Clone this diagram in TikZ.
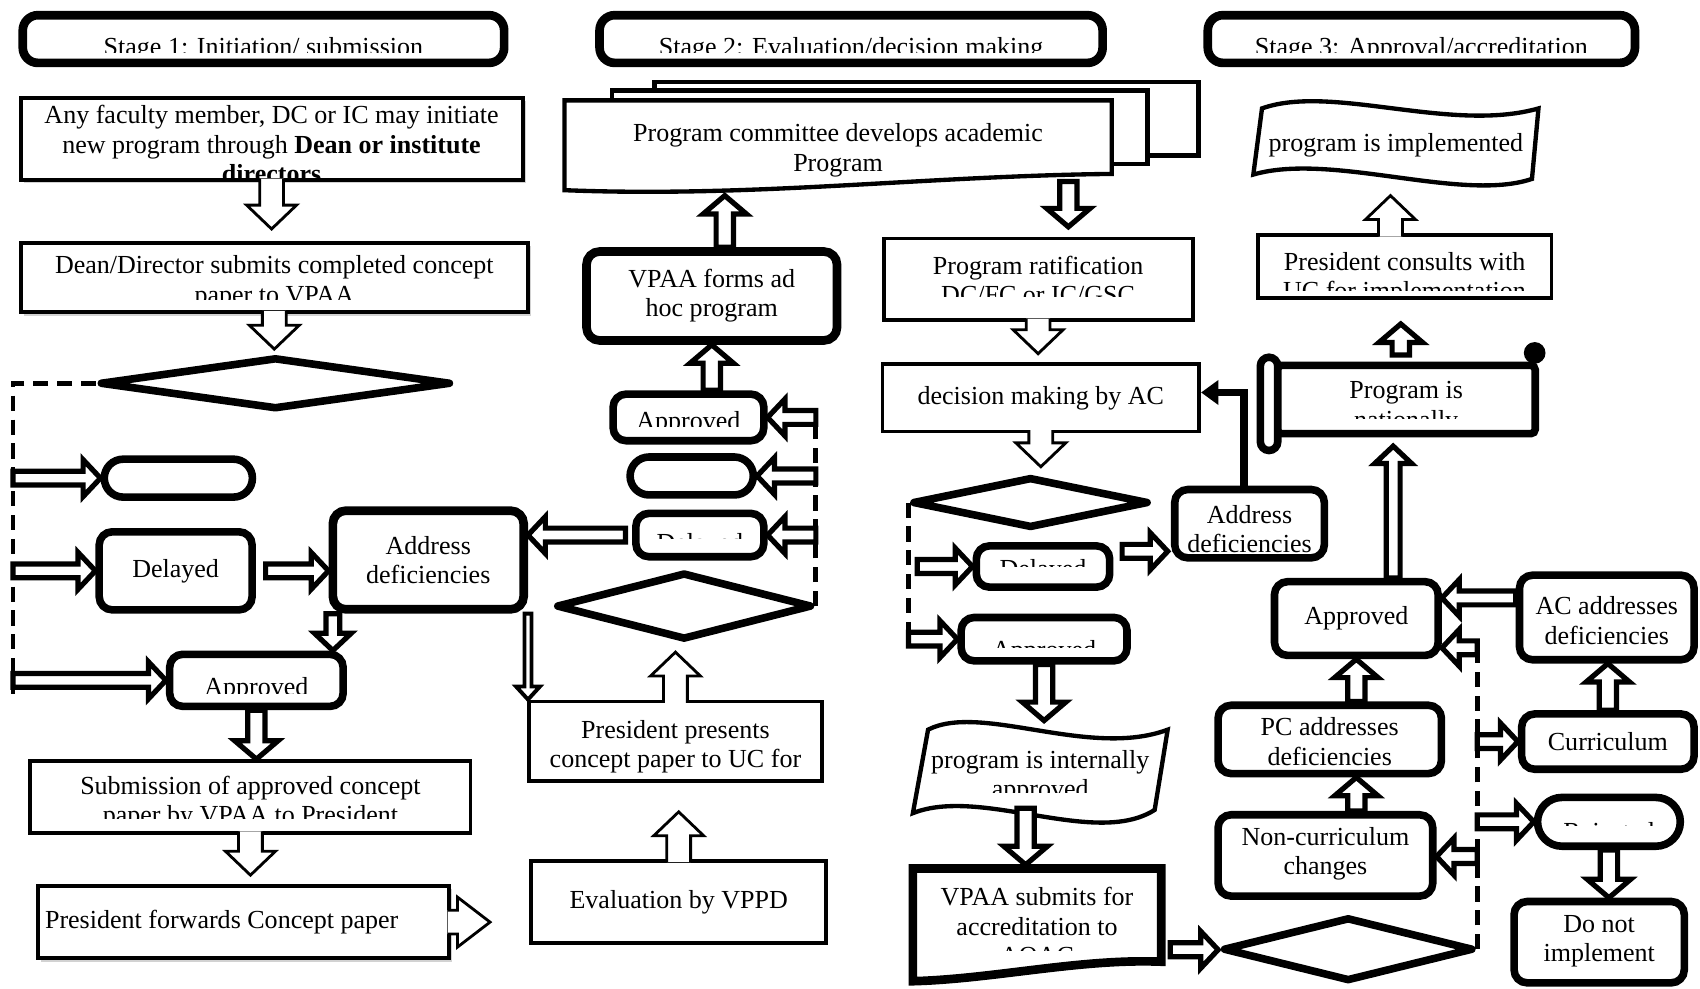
\documentclass[tikz,border=0pt]{standalone}
\usepackage{fontspec}
\setmainfont{Liberation Serif}
\usetikzlibrary{arrows.meta, calc, shapes.geometric, shapes.misc, shadows}

\newcommand{\nodefont}{\fontsize{12}{13.5}\selectfont}

\tikzset{
  blockarrow/.style n args = {4}{to path = {
      let \p1 = (\tikztostart), \p2 = (\tikztotarget),
          \n1 = {veclen(\x2-\x1,\y2-\y1)},
          \n2 = {(\x2-\x1)/\n1}, \n3 = {(\y2-\y1)/\n1}
      in ({\x1-#1*\n3},{\y1+#1*\n2})
      -- ({\x2-#3*\n2-#1*\n3},{\y2-#3*\n3+#1*\n2})
      -- ({\x2-#3*\n2-#2*\n3},{\y2-#3*\n3+#2*\n2})
      -- (\p2)
      -- ({\x2-#3*\n2+#2*\n3},{\y2-#3*\n3-#2*\n2})
      -- ({\x2-#3*\n2+#1*\n3},{\y2-#3*\n3-#1*\n2})
      -- ({\x1+#1*\n3},{\y1-#1*\n2}) #4}},
  cliptxt/.style n args = {3}{path picture = {
      \clip ([yshift=#3]path picture bounding box.west) rectangle (path picture bounding box.north east);
      \node[align = center, inner sep = 0pt] at ([yshift=#2]path picture bounding box.center) {#1};}}
}

\begin{document}
\begin{tikzpicture}[x = 0.5pt, y = -0.5pt,
    every node/.style = {font = \nodefont},
    stagebox/.style = {draw, fill = white, line width = 4pt, rounded corners = 7pt, minimum height = 22pt},
    box/.style = {draw, fill = white, line width = 1.8pt},
    shadowed/.style = {drop shadow = {shadow xshift = 1.6pt, shadow yshift = -1.6pt, fill = black!35}},
    rbox/.style = {draw, fill = white, line width = 3.5pt, rounded corners = 6pt},
    pill/.style = {rounded rectangle, draw, fill = white, line width = 3.5pt},
    dia/.style = {diamond, draw, fill = white, line width = 3.5pt, line join = round, inner sep = 0pt},
    dsh/.style = {line width = 2.2pt, dash pattern = on 7pt off 4pt},
    hol/.style = {draw, fill = white, line width = 1.3pt, blockarrow = {5.5}{11.5}{11}{}},
    slit/.style = {draw, fill = white, line width = 2.4pt, blockarrow = {3.2}{8.5}{8}{-- cycle}},
    slitb/.style = {draw, fill = white, line width = 2.4pt, blockarrow = {4}{10}{8.5}{-- cycle}},
    slim/.style = {draw, fill = white, line width = 1.8pt, blockarrow = {1.6}{5.5}{6}{-- cycle}},
    paper/.style = {draw, fill = white, line width = 2pt}]
  \useasboundingbox (0,0) rectangle (1568,912);

  % stage headers
  \node[stagebox, minimum width = 222pt, cliptxt = {Stage 1: Initiation/ submission}{-4.5pt}{-6pt}] (st1) at (243,36) {};
  \node[stagebox, minimum width = 232pt, cliptxt = {Stage 2: Evaluation/decision making}{-4.5pt}{-6pt}] (st2) at (785,36) {};
  \node[stagebox, minimum width = 197pt, cliptxt = {Stage 3: Approval/accreditation}{-4.5pt}{-6pt}] (st3) at (1311,36) {};

  % stage 1
  \node[box, shadowed, minimum width = 231.5pt, minimum height = 38pt,
        cliptxt = {Any faculty member, DC or IC may initiate\\new program through \textbf{Dean or institute}\\\textbf{directors}}{-2.5pt}{-40pt}] (init) at (250.5,128) {};
  \node[box, shadowed, minimum width = 234pt, minimum height = 32pt,
        cliptxt = {Dean/Director submits completed concept\\paper to VPAA}{-2.2pt}{-10pt}] (sub) at (253,256) {};
  \node[dia, minimum width = 162pt, minimum height = 24pt] (d1) at (254,353.5) {};
  \coordinate (dl1) at (12,640);
  \node[pill, minimum width = 75pt, minimum height = 17.5pt] (pill1) at (164.5,441) {};
  \node[rbox, minimum width = 70.5pt, minimum height = 36pt] (del1) at (162,526.5) {Delayed};
  \node[rbox, line width = 4pt, minimum width = 88pt, minimum height = 45.5pt,
        cliptxt = {Address\\deficiencies}{0pt}{-40pt}] (adr1) at (395,516.5) {};
  \node[rbox, minimum width = 80pt, minimum height = 24pt, cliptxt = {Approved}{-4.2pt}{-6.2pt}] (apr1) at (236.5,627.5) {};
  \node[box, minimum width = 203pt, minimum height = 33pt,
        cliptxt = {Submission of approved concept\\paper by VPAA to President}{-2.7pt}{-10pt}] (vpsub) at (231,735) {};
  \node[box, shadowed, minimum width = 187.5pt, minimum height = 33.5pt] (fwd) at (224.5,850.5) {President forwards Concept paper\kern 20pt};
  \coordinate (fwdtip) at (452,850.5);

  % stage 2
  \node[minimum width = 252pt, minimum height = 33.5pt] (pc) at (773,126.5) {};
  \node[rbox, line width = 4pt, minimum width = 115.5pt, minimum height = 41pt,
        cliptxt = {VPAA forms ad\\hoc program}{0pt}{-40pt}] (vpaa) at (656.5,273) {};
  \node[rbox, minimum width = 69.5pt, minimum height = 21.5pt, cliptxt = {Approved}{-2.5pt}{-4pt}] (apr2) at (635,385) {};
  \node[pill, minimum width = 63.5pt, minimum height = 17.5pt] (pill2) at (638,439) {};
  \node[rbox, minimum width = 59pt, minimum height = 20pt, cliptxt = {Delayed}{-4.75pt}{-1.75pt}] (del2) at (645.5,493.5) {};
  \node[dia, minimum width = 118pt, minimum height = 31pt] (d2) at (631,559) {};
  \coordinate (dl2) at (749,378);
  \node[box, minimum width = 135pt, minimum height = 36.5pt,
        cliptxt = {President presents\\concept paper to UC for}{-2.5pt}{-40pt}] (pres) at (623,683.5) {};
  \node[box, minimum width = 136pt, minimum height = 38pt] (vppd) at (626,832) {Evaluation by VPPD};

  % stage 3, left part
  \node[box, minimum width = 142.5pt, minimum height = 37.5pt,
        cliptxt = {Program ratification\\DC/FC or IC/GSC}{-0.5pt}{-8pt}] (rat) at (957.5,257.5) {};
  \node[box, minimum width = 146pt, minimum height = 31pt] (dec) at (960,367) {decision making by AC};
  \node[dia, minimum width = 109pt, minimum height = 23.5pt] (d3) at (950.5,463.5) {};
  \coordinate (dl3) at (845,592);
  \node[rbox, minimum width = 61.5pt, minimum height = 19pt, cliptxt = {Delayed}{-2.2pt}{0pt}] (del3) at (962,522.5) {};
  \node[rbox, minimum width = 76.5pt, minimum height = 20pt, cliptxt = {Approved}{-6.2pt}{-3.7pt}] (apr3) at (963,589.5) {};
  \node[rbox, minimum width = 69pt, minimum height = 31.5pt,
        cliptxt = {Address\\deficiencies}{-2.5pt}{-40pt}] (adr3) at (1152.5,483) {};
  \node[minimum width = 110pt, minimum height = 35pt] (ia) at (960,710) {};
  \node[minimum width = 114.5pt, minimum height = 44pt] (vs) at (956.5,848) {};
  \node[dia, minimum width = 115.5pt, minimum height = 29.5pt] (d4) at (1243.5,875.5) {};
  \coordinate (dl4) at (1362,590);

  % stage 3, right part
  \node[minimum width = 125pt, minimum height = 35pt] (imp) at (1288,135) {};
  \node[box, minimum width = 135.5pt, minimum height = 29pt,
        cliptxt = {President consults with\\UC for implementation}{-5.5pt}{-11pt}] (ps) at (1295.5,246) {};
  \node[rbox, rounded corners = 2pt, minimum width = 119pt, minimum height = 31.5pt,
        cliptxt = {Program is\\nationally}{-3.75pt}{-8.75pt}] (nat) at (1297,368.5) {};
  \node[rbox, minimum width = 75.5pt, minimum height = 34pt] (apr4) at (1251,570.5) {Approved};
  \node[rbox, minimum width = 80.5pt, minimum height = 39pt,
        cliptxt = {AC addresses\\deficiencies}{-1.5pt}{-40pt}] (ac) at (1482,569.5) {};
  \node[rbox, minimum width = 79.5pt, minimum height = 25.5pt] (cur) at (1483,684) {Curriculum};
  \node[pill, minimum width = 72.5pt, minimum height = 22.5pt, cliptxt = {Rejected}{-5.5pt}{-1.5pt}] (rej) at (1484,758) {};
  \node[rbox, minimum width = 78.5pt, minimum height = 37.5pt,
        cliptxt = {Do not\\implement}{0.5pt}{-40pt}] (dni) at (1475,869) {};
  \node[rbox, minimum width = 103pt, minimum height = 31.5pt,
        cliptxt = {PC addresses\\deficiencies}{-1pt}{-40pt}] (pcd) at (1226.5,682) {};
  \node[rbox, minimum width = 99pt, minimum height = 37.5pt,
        cliptxt = {Non-curriculum\\changes}{0.7pt}{-40pt}] (ncc) at (1222.5,789) {};

  % shapes drawn round the empty nodes
  \draw[paper] ($(pc.north west)+(83,-17)$) rectangle ($(pc.south east)+(80,-17)$);
  \draw[paper] ($(pc.north west)+(44,-9)$) rectangle ($(pc.south east)+(33,-9)$);
  \draw[paper, cliptxt = {Program committee develops academic\\Program}{-0.5pt}{-40pt}]
    (pc.north west) -- (pc.north east) -- (pc.south east)
    .. controls ($(pc.south east)+(-175,2)$) and ($(pc.south west)+(175,22)$) .. ($(pc.south west)+(0,15)$) -- cycle;
  \draw[paper, shift = {(imp.center)}, cliptxt = {program is implemented}{-1pt}{-40pt}]
    (-124,-35) .. controls (-60,-58) and (50,-12) .. (131,-35)
    -- (125,30) .. controls (60,52) and (-60,5) .. (-132,26) -- cycle;
  \draw[paper, shift = {(ia.center)}, cliptxt = {program is internally\\approved}{-0.75pt}{-8pt}]
    (-104,-37) .. controls (-55,-62) and (45,-10) .. (117,-37)
    -- (105,37) .. controls (50,72) and (-55,15) .. (-118,40) -- cycle;
  \draw[paper, line width = 4pt, shift = {(vs.center)}, cliptxt = {VPAA submits for\\accreditation to\\AQAC}{-1.5pt}{-12pt}]
    (-114.5,-47) -- (114.5,-47) -- (114.5,39) .. controls (40,36) and (-40,55) .. (-114.5,57) -- cycle;
  \draw[rbox, rounded corners = 4pt] ($(nat.north west)+(-12,-4)$) rectangle ($(nat.south west)+(4,12)$);
  \fill ($(nat.north east)+(-4,-8)$) circle (5pt);

  % dashed decision lines
  \draw[dsh] (d1.west) -| (dl1);
  \draw[dsh] (d2.east) -- (d2.east |- dl2);
  \draw[dsh] (d3.west) -- (d3.west |- dl3);
  \draw[dsh] (d4.east) -- (d4.east |- dl4);

  % connectors, stage 1
  \draw[hol] ([yshift=1.5pt]init.south) to ($(init.south |- sub.north)+(0,-11)$);
  \draw[hol] ([yshift=1.5pt]sub.south) to ($(sub.south |- d1.north)+(0,-4)$);
  \draw[slit] (pill1.west -| dl1) to (pill1.west);
  \draw[slit] (del1.west -| dl1) to (del1.west);
  \draw[slit] (apr1.west -| dl1) to (apr1.west);
  \draw[slit] ($(del1.east)+(9,0)$) to (del1.east -| adr1.west);
  \draw[slit] ($(adr1.south west)+(4,0)$) to ($(adr1.south west |- apr1.north)+(4,0)$);
  \draw[slim] (adr1.south east) to (adr1.south east |- pres.north);
  \draw[slitb] (apr1.south) to (apr1.south |- vpsub.north);
  \draw[hol] ([yshift=1.5pt]vpsub.south) to ($(vpsub.south |- fwd.north)+(0,-8)$);
  \draw[hol, blockarrow = {5.5}{11.5}{15}{}] ([xshift=-1.5pt]fwd.east) to (fwdtip);

  % connectors, stage 2
  \draw[slit] (apr2.east -| d2.east) to (apr2.east);
  \draw[slit] (pill2.east -| d2.east) to (pill2.east);
  \draw[slit] (del2.east -| d2.east) to (del2.east);
  \draw[slit] ($(del2.west)+(-6,0)$) to (del2.west -| adr1.east);
  \draw[slitb] (vpaa.south |- apr2.north) to (vpaa.south);
  \draw[slitb] ($(vpaa.north)+(12,0)$) to ($(vpaa.north |- pc.south)+(12,20)$);
  \draw[hol] ([yshift=-1.5pt]pres.north) to ($(pres.north |- d2.south)+(0,8)$);
  \draw[hol] ([yshift=-1.5pt]vppd.north) to ($(vppd.north |- pres.south)+(0,27)$);

  % connectors, stage 3
  \draw[slitb] ($(pc.south east)+(-40,7)$) to ($(pc.south east |- rat.north)+(-40,-9)$);
  \draw[hol] ([yshift=1.5pt]rat.south) to ($(rat.south |- dec.north)+(0,-8)$);
  \draw[hol] ([yshift=1.5pt]dec.south) to ($(dec.south |- d3.north)+(0,-6)$);
  \draw[slit] ($(del3.west -| d3.west)+(8,0)$) to (del3.west);
  \draw[slit] (apr3.west -| d3.west) to (apr3.west);
  \draw[slit] ($(del3.east)+(8,-14)$) to ($(del3.east -| adr3.west)+(-3,-14)$);
  \draw[line width = 3.5pt, -{Triangle[length = 8pt, width = 11pt]}] ($(adr3.north)+(-5,0)$) |- ($(dec.east)+(0,-5)$);
  \draw[slitb] (apr3.south) to ($(apr3.south |- ia.north)+(0,-10)$);
  \draw[slitb] ($(ia.south)+(-14,0)$) to ($(ia.south |- vs.north)+(-14,-6)$);
  \draw[slit] ($(vs.east)+(8,28)$) to ($(vs.east -| d4.west)+(-1,28)$);
  \draw[slit] ($(apr4.east -| d4.east)+(0,27)$) to ($(apr4.east)+(0,27)$);
  \draw[slit] ($(ac.west)+(0,-18)$) to ($(apr4.east |- ac.west)+(0,-18)$);
  \draw[slit] (cur.west -| d4.east) to (cur.west);
  \draw[slit] (rej.west -| d4.east) to (rej.west);
  \draw[slit] ($(ncc.east -| d4.east)+(0,1)$) to ($(ncc.east)+(0,1)$);
  \draw[slitb] (cur.north) to (cur.north |- ac.south);
  \draw[slitb] (rej.south) to (rej.south |- dni.north);
  \draw[slitb] (apr4.south |- pcd.north) to (apr4.south);
  \draw[slitb] (apr4.south |- ncc.north) to (apr4.south |- pcd.south);
  \draw[slit] ($(apr4.north)+(34,0)$) to ($(apr4.north |- nat.south)+(34,8)$);
  \draw[slitb] ($(nat.north)+(-5,-6)$) to ($(nat.north |- ps.south)+(-5,22)$);
  \draw[hol] ($(ps.north)+(-13,3)$) to ($(ps.north |- imp.south)+(-13,10)$);
\end{tikzpicture}
\end{document}
